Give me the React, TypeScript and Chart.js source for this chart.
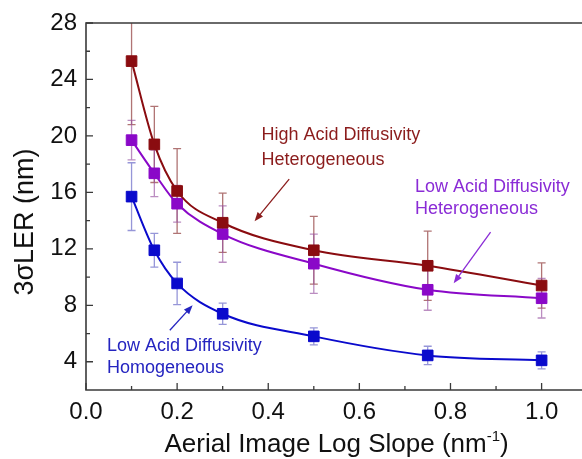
import React, { useEffect, useRef } from "react";
import { Chart, registerables } from "chart.js";

Chart.register(...registerables);

// ---- data ----
const xValues = [0.1, 0.15, 0.2, 0.3, 0.5, 0.75, 1.0];
const highHetero = [25.3, 19.4, 16.1, 13.85, 11.9, 10.8, 9.4];
const highHeteroErr = [4.5, 2.7, 3.0, 2.1, 2.4, 2.45, 1.6];
const lowHetero = [19.7, 17.35, 15.2, 13.05, 10.95, 9.1, 8.5];
const lowHeteroErr = [1.4, 1.65, 1.3, 2.0, 2.1, 1.45, 1.4];
const lowHomo = [15.7, 11.9, 9.55, 7.4, 5.8, 4.45, 4.1];
const lowHomoErr = [2.4, 1.2, 1.5, 0.75, 0.6, 0.65, 0.6];

const xTicks = [0, 0.2, 0.4, 0.6, 0.8, 1.0];
const xMinorTicks = [0.1, 0.3, 0.5, 0.7, 0.9];
const yTicks = [4, 8, 12, 16, 20, 24, 28];
const yMinorTicks = [6, 10, 14, 18, 22, 26];

const yTitle = "3σLER (nm)";
const xTitleMain = "Aerial Image Log Slope (nm";
const xTitleSup = "-1";
const xTitleEnd = ")";

const labelHigh = ["High Acid Diffusivity", "Heterogeneous"];
const labelLowHet = ["Low Acid Diffusivity", "Heterogeneous"];
const labelLowHom = ["Low Acid Diffusivity", "Homogeneous"];

// annotation placement (data coordinates)
const annotations = [
  { lines: labelHigh, x: 0.385, y: [20.05, 18.3], color: "#8B1C1C", arrow: [0.446, 16.94, 0.37, 13.96] },
  { lines: labelLowHet, x: 0.722, y: [16.37, 14.8], color: "#8A2BD6", arrow: [0.888, 13.18, 0.807, 9.56] },
  { lines: labelLowHom, x: 0.046, y: [5.09, 3.53], color: "#2424C0", arrow: [0.184, 6.23, 0.234, 8.0] },
];
const xTitleCenter = 0.55; // data x
const yTitleCenter = 13.9; // data y

const RED = "#8A0C10";
const PURPLE = "#8A08C8";
const BLUE = "#0A0ACC";
const FONT = "'Liberation Sans', Arial, sans-serif";

const errorSets = [
  { vals: highHetero, errs: highHeteroErr, color: "rgba(150,70,70,0.75)" },
  { vals: lowHetero, errs: lowHeteroErr, color: "rgba(150,80,160,0.65)" },
  { vals: lowHomo, errs: lowHomoErr, color: "rgba(80,80,190,0.6)" },
];

const decorPlugin = {
  id: "decor",
  beforeDatasetsDraw(chart: any) {
    const { ctx, chartArea: a, scales } = chart;
    const xs = scales.x, ys = scales.y;
    ctx.save();
    ctx.beginPath();
    ctx.rect(a.left, a.top, chart.width - a.left, a.bottom - a.top);
    ctx.clip();
    ctx.lineWidth = 1.3;
    for (const s of errorSets) {
      ctx.strokeStyle = s.color;
      xValues.forEach((xv, i) => {
        const px = xs.getPixelForValue(xv);
        const top = ys.getPixelForValue(s.vals[i] + s.errs[i]);
        const bot = ys.getPixelForValue(s.vals[i] - s.errs[i]);
        ctx.beginPath();
        ctx.moveTo(px, top);
        ctx.lineTo(px, bot);
        ctx.moveTo(px - 4, top);
        ctx.lineTo(px + 4, top);
        ctx.moveTo(px - 4, bot);
        ctx.lineTo(px + 4, bot);
        ctx.stroke();
      });
    }
    ctx.restore();
  },
  afterDraw(chart: any) {
    const { ctx, chartArea: a, scales } = chart;
    const xs = scales.x, ys = scales.y;
    const rightEdge = chart.width;
    ctx.save();
    // frame
    ctx.strokeStyle = "#3a3a3a";
    ctx.lineWidth = 1.6;
    ctx.beginPath();
    ctx.moveTo(rightEdge, a.top);
    ctx.lineTo(a.left, a.top);
    ctx.lineTo(a.left, a.bottom);
    ctx.lineTo(rightEdge, a.bottom);
    ctx.stroke();
    // ticks
    ctx.lineWidth = 1.3;
    ctx.beginPath();
    for (const v of xTicks) {
      const p = xs.getPixelForValue(v);
      ctx.moveTo(p, a.bottom);
      ctx.lineTo(p, a.bottom - 7);
    }
    for (const v of xMinorTicks) {
      const p = xs.getPixelForValue(v);
      ctx.moveTo(p, a.bottom);
      ctx.lineTo(p, a.bottom - 4);
    }
    for (const v of yTicks) {
      const p = ys.getPixelForValue(v);
      ctx.moveTo(a.left, p);
      ctx.lineTo(a.left + 7, p);
    }
    for (const v of yMinorTicks) {
      const p = ys.getPixelForValue(v);
      ctx.moveTo(a.left, p);
      ctx.lineTo(a.left + 4, p);
    }
    ctx.stroke();

    // annotations
    ctx.font = `18px ${FONT}`;
    ctx.textBaseline = "middle";
    ctx.textAlign = "left";
    for (const an of annotations) {
      ctx.fillStyle = an.color;
      const tx = xs.getPixelForValue(an.x);
      an.lines.forEach((t, i) => {
        ctx.fillText(t, tx, ys.getPixelForValue(an.y[i]));
      });
      const [x1, y1, x2, y2] = an.arrow;
      const p1x = xs.getPixelForValue(x1), p1y = ys.getPixelForValue(y1);
      const p2x = xs.getPixelForValue(x2), p2y = ys.getPixelForValue(y2);
      const ang = Math.atan2(p2y - p1y, p2x - p1x);
      const hl = 9, hw = 3.5;
      ctx.strokeStyle = an.color;
      ctx.lineWidth = 1.3;
      ctx.beginPath();
      ctx.moveTo(p1x, p1y);
      ctx.lineTo(p2x - Math.cos(ang) * hl * 0.8, p2y - Math.sin(ang) * hl * 0.8);
      ctx.stroke();
      ctx.beginPath();
      ctx.moveTo(p2x, p2y);
      ctx.lineTo(p2x - Math.cos(ang) * hl - Math.sin(ang) * hw, p2y - Math.sin(ang) * hl + Math.cos(ang) * hw);
      ctx.lineTo(p2x - Math.cos(ang) * hl + Math.sin(ang) * hw, p2y - Math.sin(ang) * hl - Math.cos(ang) * hw);
      ctx.closePath();
      ctx.fillStyle = an.color;
      ctx.fill();
    }

    // y title (rotated)
    ctx.fillStyle = "#111";
    ctx.save();
    ctx.translate(26, ys.getPixelForValue(yTitleCenter));
    ctx.rotate(-Math.PI / 2);
    ctx.font = `27px ${FONT}`;
    ctx.textAlign = "center";
    ctx.textBaseline = "middle";
    ctx.fillText(yTitle, 0, 0);
    ctx.restore();

    // x title with superscript
    ctx.textAlign = "left";
    ctx.textBaseline = "alphabetic";
    const big = `26px ${FONT}`;
    const small = `15px ${FONT}`;
    ctx.font = big;
    const w1 = ctx.measureText(xTitleMain).width;
    const w3 = ctx.measureText(xTitleEnd).width;
    ctx.font = small;
    const w2 = ctx.measureText(xTitleSup).width;
    const total = w1 + w2 + w3;
    const cx = xs.getPixelForValue(xTitleCenter);
    let sx = cx - total / 2;
    const by = 452;
    ctx.font = big;
    ctx.fillText(xTitleMain, sx, by);
    sx += w1;
    ctx.font = small;
    ctx.fillText(xTitleSup, sx, by - 11);
    sx += w2;
    ctx.font = big;
    ctx.fillText(xTitleEnd, sx, by);
    ctx.restore();
  },
};

function series(vals: number[]) {
  return xValues.map((x, i) => ({ x, y: vals[i] }));
}

export default function App() {
  const ref = useRef<HTMLCanvasElement | null>(null);
  useEffect(() => {
    if (!ref.current) return;
    const mk = (label: string, vals: number[], color: string) => ({
      label,
      data: series(vals),
      borderColor: color,
      backgroundColor: color,
      pointBackgroundColor: color,
      pointBorderColor: color,
      pointStyle: "rect",
      pointRadius: 7.5,
      pointBorderWidth: 1,
      borderWidth: 2,
      cubicInterpolationMode: "monotone",
      showLine: true,
    });
    const chart = new Chart(ref.current, {
      type: "line",
      data: {
        datasets: [
          mk("High Acid Diffusivity Heterogeneous", highHetero, RED),
          mk("Low Acid Diffusivity Heterogeneous", lowHetero, PURPLE),
          mk("Low Acid Diffusivity Homogeneous", lowHomo, BLUE),
        ] as any,
      },
      options: {
        animation: false,
        responsive: false,
        maintainAspectRatio: false,
        layout: { padding: { top: 23, right: 0, left: 0, bottom: 0 } },
        plugins: { legend: { display: false }, tooltip: { enabled: false } },
        scales: {
          x: {
            type: "linear",
            min: 0,
            max: 1.07,
            grid: { display: false, drawTicks: false },
            border: { display: false },
            afterBuildTicks: (s: any) => {
              s.ticks = xTicks.map((v) => ({ value: v }));
            },
            afterFit: (s: any) => {
              s.height = 69;
              s.paddingLeft = 0;
              s.paddingRight = 0;
            },
            ticks: {
              padding: 8,
              color: "#111",
              font: { family: FONT, size: 24 },
              callback: (v: any) => Number(v).toFixed(1),
              maxRotation: 0,
            },
          },
          y: {
            type: "linear",
            min: 2,
            max: 28,
            grid: { display: false, drawTicks: false },
            border: { display: false },
            afterBuildTicks: (s: any) => {
              s.ticks = yTicks.map((v) => ({ value: v }));
            },
            afterFit: (s: any) => {
              s.width = 86;
              s.paddingTop = 0;
              s.paddingBottom = 0;
            },
            ticks: {
              padding: 9,
              color: "#111",
              font: { family: FONT, size: 24 },
              callback: (v: any) => String(v),
            },
          },
        },
      } as any,
      plugins: [decorPlugin],
    });
    return () => chart.destroy();
  }, []);
  return (
    <div style={{ position: "absolute", left: 0, top: 0, width: 582, height: 459, background: "#fff", overflow: "hidden" }}>
      <canvas ref={ref} width={582} height={459} style={{ display: "block", width: 582, height: 459 }} />
    </div>
  );
}
